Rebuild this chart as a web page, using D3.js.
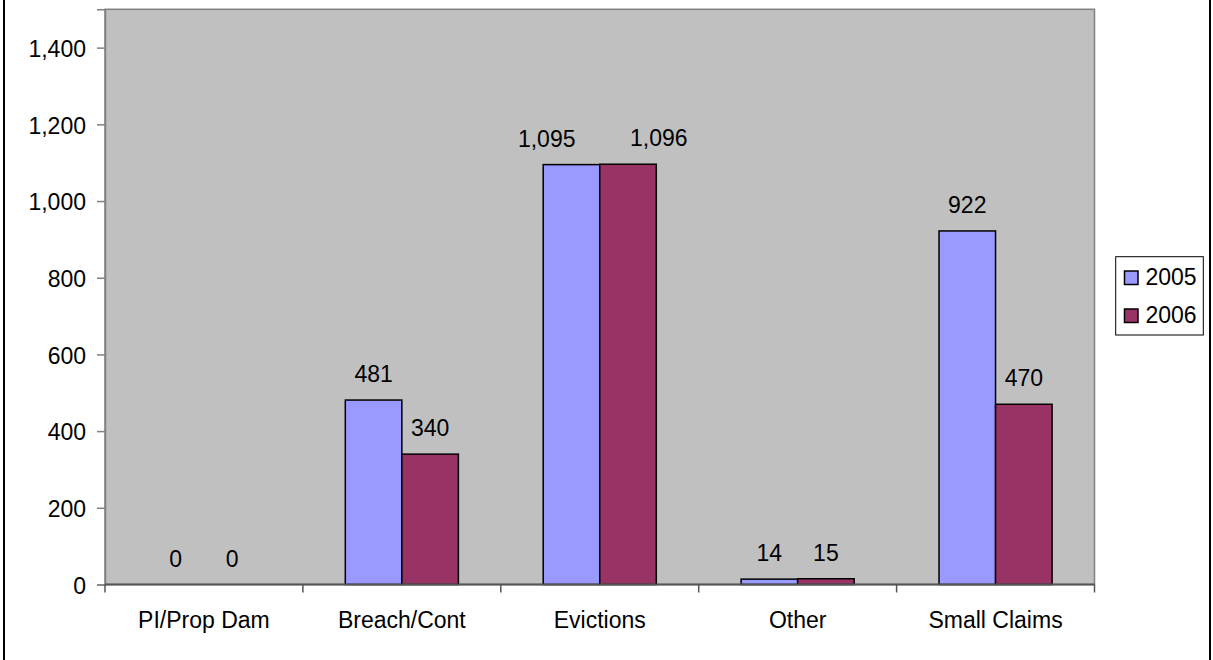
<!DOCTYPE html>
<html>
<head>
<meta charset="utf-8">
<script src="https://cdn.jsdelivr.net/npm/d3@7"></script>
<style>
  html, body { margin: 0; padding: 0; background: #fff; }
  svg { display: block; font-family: "Liberation Sans", Arial, sans-serif; }
</style>
</head>
<body>
<svg id="chart" width="1213" height="660"></svg>
<script>
// Case counts by category, 2005 vs 2006
const categories = ["PI/Prop Dam", "Breach/Cont", "Evictions", "Other", "Small Claims"];
const seriesNames = ["2005", "2006"];
const values2005 = [0, 481, 1095, 14, 922];
const values2006 = [0, 340, 1096, 15, 470];
const yTicks = [0, 200, 400, 600, 800, 1000, 1200, 1400];
const colors = ["#9999FF", "#993366"];

const svg = d3.select("#chart");
const fontSize = 23;
const fmt = d3.format(",");

// Outer chart frame
svg.append("rect")
  .attr("x", 4).attr("y", -5)
  .attr("width", 1206).attr("height", 675)
  .attr("fill", "#fff").attr("stroke", "#000").attr("stroke-width", 2);

// Plot area
const plot = { left: 105, right: 1094.5, top: 9.3, bottom: 584.5 };

const x = d3.scaleBand()
  .domain(categories)
  .range([plot.left, plot.right])
  .paddingInner(0).paddingOuter(0);

const y = d3.scaleLinear()
  .domain([0, 1500])
  .range([plot.bottom, plot.top]);

// bars take 2 of 3.5 slots per category (gap width 150%)
const barW = x.bandwidth() / 3.5;
const xs = d3.scaleBand()
  .domain(seriesNames)
  .range([barW * 0.75, barW * 2.75]);

svg.append("rect")
  .attr("x", plot.left).attr("y", plot.top)
  .attr("width", plot.right - plot.left).attr("height", plot.bottom - plot.top)
  .attr("fill", "#C0C0C0").attr("stroke", "#808080").attr("stroke-width", 1.5);

// Y axis
const yAxis = d3.axisLeft(y).tickValues(yTicks).tickSize(8).tickPadding(11)
  .tickFormat(fmt);
const gy = svg.append("g").attr("transform", `translate(${plot.left},0)`).call(yAxis);
gy.select(".domain").attr("stroke", "#808080").attr("stroke-width", 1.5);
gy.selectAll(".tick line").attr("stroke", "#808080").attr("stroke-width", 1.5);
gy.selectAll(".tick text")
  .attr("font-size", fontSize).attr("fill", "#000")
  .attr("font-family", "Liberation Sans, Arial, sans-serif")
  .attr("dy", "0.38em");

// Bars and value labels
const series = [values2005, values2006];
const groups = svg.append("g");
const labelLayer = svg.append("g").attr("font-size", fontSize).attr("fill", "#000");
categories.forEach((c, i) => {
  const labels = [];
  seriesNames.forEach((s, j) => {
    const v = series[j][i];
    const bx = x(c) + xs(s);
    if (v > 0) {
      groups.append("rect")
        .attr("x", bx).attr("y", y(v))
        .attr("width", xs.bandwidth()).attr("height", y(0) - y(v))
        .attr("fill", colors[j]).attr("stroke", "#000").attr("stroke-width", 1.5);
    }
    const t = labelLayer.append("text")
      .attr("x", bx + xs.bandwidth() / 2)
      .attr("y", y(v) - 18)
      .attr("text-anchor", "middle")
      .text(fmt(v));
    labels.push({ t, cx: bx + xs.bandwidth() / 2, w: t.node().getComputedTextLength() });
  });
  // pull apart labels that would collide over adjacent bars
  const [a, b] = labels;
  if (a.cx + a.w / 2 > b.cx - b.w / 2 - 6) {
    a.t.attr("text-anchor", "end").attr("x", a.cx + 4);
    b.t.attr("text-anchor", "start").attr("x", b.cx + 2);
  }
});

// X axis
const gx = svg.append("g").attr("transform", `translate(0,${plot.bottom})`);
gx.append("line")
  .attr("x1", plot.left).attr("x2", plot.right)
  .attr("y1", 0).attr("y2", 0)
  .attr("stroke", "#555").attr("stroke-width", 2);
// category boundary ticks
const bounds = categories.map(c => x(c)).concat([plot.right]);
gx.selectAll("line.bound").data(bounds).join("line")
  .attr("class", "bound")
  .attr("x1", d => d).attr("x2", d => d)
  .attr("y1", 0).attr("y2", 8)
  .attr("stroke", "#555").attr("stroke-width", 1.5);
gx.selectAll("text.cat").data(categories).join("text")
  .attr("class", "cat")
  .attr("x", d => x(d) + x.bandwidth() / 2)
  .attr("y", 43)
  .attr("text-anchor", "middle")
  .attr("font-size", fontSize)
  .attr("fill", "#000")
  .text(d => d);

// Legend
const lg = svg.append("g");
lg.append("rect")
  .attr("x", 1115.7).attr("y", 256.7).attr("width", 87.6).attr("height", 78.3)
  .attr("fill", "#fff").attr("stroke", "#000").attr("stroke-width", 1);
seriesNames.forEach((s, j) => {
  const yy = 271 + j * 38;
  lg.append("rect")
    .attr("x", 1124.5).attr("y", yy).attr("width", 13.5).attr("height", 13.5)
    .attr("fill", colors[j]).attr("stroke", "#000").attr("stroke-width", 1.5);
  lg.append("text")
    .attr("x", 1145.5).attr("y", yy + 13.5)
    .attr("font-size", fontSize)
    .attr("fill", "#000")
    .text(s);
});
</script>
</body>
</html>
